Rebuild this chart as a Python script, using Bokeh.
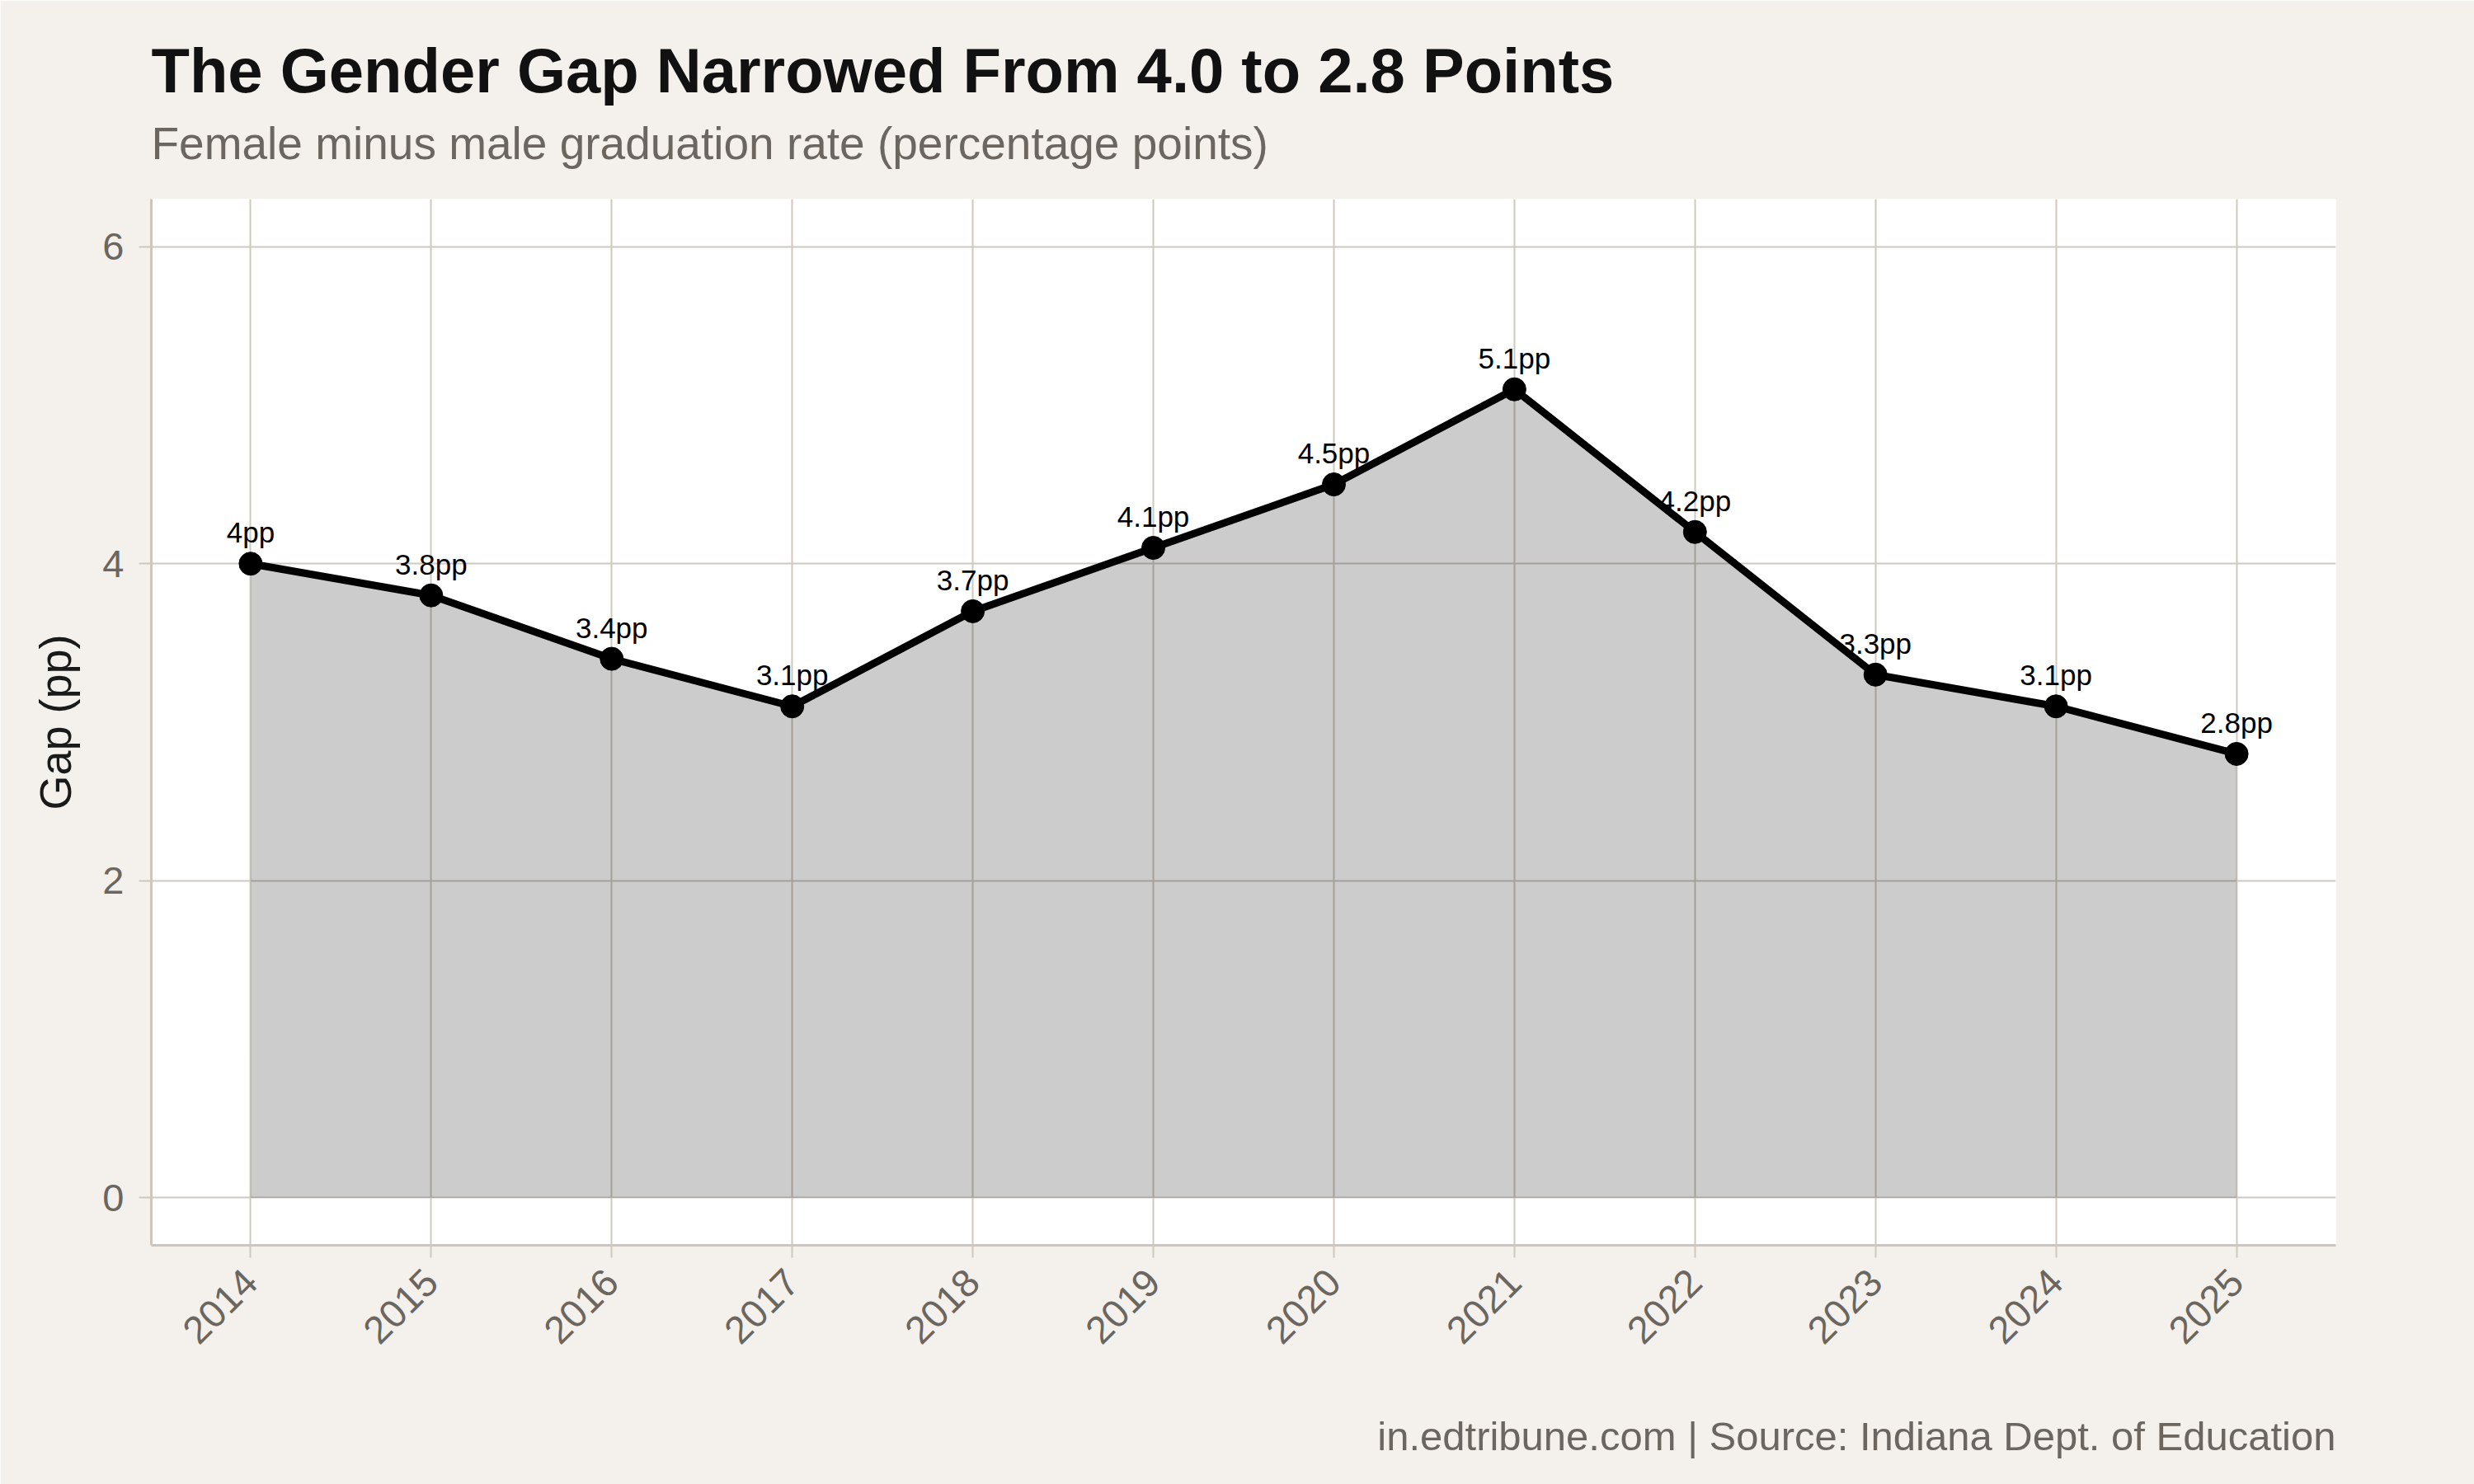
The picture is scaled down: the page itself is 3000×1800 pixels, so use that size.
from bokeh.plotting import figure
from bokeh.models import Range1d, FixedTicker, Title, ColumnDataSource
from bokeh.embed import file_html
from bokeh.resources import INLINE
from bokeh.core.properties import value
import math

# Indiana graduation-rate gender gap, female minus male (percentage points)
years = [2014, 2015, 2016, 2017, 2018, 2019, 2020, 2021, 2022, 2023, 2024, 2025]
gap = [4.0, 3.8, 3.4, 3.1, 3.7, 4.1, 4.5, 5.1, 4.2, 3.3, 3.1, 2.8]
gap_labels = [f"{v:g}pp" for v in gap]
y_ticks = [0, 2, 4, 6]

title_text = "The Gender Gap Narrowed From 4.0 to 2.8 Points"
subtitle_text = "Female minus male graduation rate (percentage points)"
caption_text = "in.edtribune.com | Source: Indiana Dept. of Education"

FONT = "Liberation Sans"
BG = "#F4F1EC"
GRID = "#CEC9C0"
MUTED = "#6B665F"

src = ColumnDataSource(dict(year=years, gap=gap, label=gap_labels))

p = figure(
    width=3000, height=1800,
    x_range=Range1d(2013.45, 2025.55), y_range=Range1d(-0.3, 6.3),
    output_backend="svg", toolbar_location=None, title=None,
    background_fill_color="white", border_fill_color=BG,
    min_border_left=183, min_border_right=168,
    min_border_top=241, min_border_bottom=290,
)
p.outline_line_color = None


def spacer(gap_px):
    """Blank heading in the border colour, used to push the next heading outward."""
    return Title(text="X", text_font=FONT, text_font_size="10px",
                 text_color=BG, standoff=gap_px)


# "above" items stack outward from the plot: spacer, subtitle, title
p.add_layout(spacer(24), "above")
p.add_layout(Title(text=subtitle_text, text_font=FONT, text_font_size="55px",
                   text_font_style="normal", text_color=MUTED, align="left",
                   standoff=0), "above")
p.add_layout(Title(text=title_text, text_font=FONT, text_font_size="76px",
                   text_font_style="bold", text_color="#111111", align="left",
                   standoff=26), "above")
# "below": x axis, spacer, caption
p.add_layout(spacer(52), "below")
p.add_layout(Title(text=caption_text, text_font=FONT, text_font_size="49px",
                   text_font_style="normal", text_color=MUTED, align="right",
                   standoff=0), "below")

# shaded area under the gap line
p.varea(x="year", y1=0, y2="gap", source=src, fill_color="black", fill_alpha=0.2)
p.line(x="year", y="gap", source=src, line_color="black", line_width=9,
       line_join="round")
p.scatter(x="year", y="gap", source=src, size=28, fill_color="black",
          line_color="black")
p.text(x="year", y="gap", text="label", source=src, y_offset=-38,
       text_align="center", text_baseline="alphabetic",
       text_font=value(FONT), text_font_size="35px", text_color="black")

# axes
p.xaxis.ticker = FixedTicker(ticks=years)
p.yaxis.ticker = FixedTicker(ticks=y_ticks)
p.xaxis.major_label_orientation = math.pi / 4
p.yaxis.axis_label = "Gap (pp)"
for ax in (p.xaxis, p.yaxis):
    ax.axis_line_color = "#CCC6BC"
    ax.axis_line_width = 3
    ax.major_tick_line_color = GRID
    ax.major_tick_line_width = 2
    ax.major_tick_in = 0
    ax.major_tick_out = 15
    ax.minor_tick_line_color = None
    ax.major_label_text_font = FONT
    ax.major_label_text_font_size = "47px"
    ax.major_label_text_color = MUTED
    ax.axis_label_text_font = FONT
    ax.axis_label_text_font_size = "54px"
    ax.axis_label_text_font_style = "normal"
    ax.axis_label_text_color = "#1A1A1A"
p.yaxis.major_label_standoff = 18
p.yaxis.axis_label_standoff = 24
p.xaxis.major_label_standoff = 22

p.xgrid.grid_line_color = GRID
p.ygrid.grid_line_color = GRID
p.xgrid.grid_line_width = 2
p.ygrid.grid_line_width = 2

open("out.html", "w").write(file_html(p, INLINE))
